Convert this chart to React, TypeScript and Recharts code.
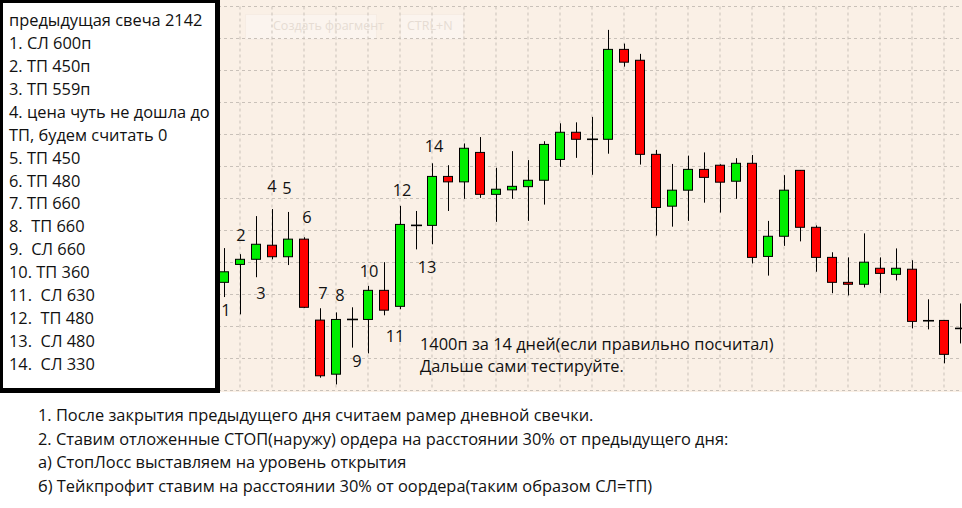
import { ComposedChart, Bar, XAxis, YAxis, CartesianGrid } from 'recharts';

// candles hidden under the note box on the left
const HIDDEN = 13;

// daily OHLC, price units (one grid step = 100)
const opens = [
  338, 394, 410, 454, 418, 473, 220, 51, 222, 222, 313, 263, 516, 516, 669,
  652, 744, 613, 627, 637, 657, 722, 807, 785, 785, 1066, 1032, 738, 576, 626,
  691, 704, 654, 710, 419, 482, 688, 510, 416, 338, 332, 382, 363, 379, 218, 219, 194,
];
const highs = [
  445, 426, 545, 567, 558, 479, 257, 244, 260, 327, 401, 577, 561, 710, 704,
  772, 792, 696, 748, 720, 779, 835, 838, 855, 1127, 1084, 1052, 752, 708, 734,
  744, 707, 726, 736, 530, 673, 689, 516, 432, 416, 491, 416, 444, 407, 285, 220, 272,
];
const lows = [
  292, 238, 354, 410, 392, 258, 40, 19, 134, 116, 235, 254, 441, 457, 561,
  599, 602, 527, 599, 530, 581, 699, 727, 674, 740, 1012, 706, 484, 512, 530,
  587, 556, 599, 397, 359, 452, 466, 371, 304, 297, 322, 304, 344, 194, 191, 85, 147,
];
const closes = [
  371, 410, 457, 418, 473, 260, 46, 222, 222, 313, 251, 519, 516, 669, 652,
  757, 613, 629, 638, 657, 769, 807, 785, 785, 1066, 1026, 738, 572, 626, 691,
  666, 651, 710, 416, 482, 626, 510, 416, 338, 332, 401, 366, 382, 216, 218, 113, 194,
];

const priceTicks = [0, 100, 200, 300, 400, 500, 600, 700, 800, 900, 1000, 1100, 1200];

const noteLines = [
  'предыдущая свеча 2142',
  '1. СЛ 600п',
  '2. ТП 450п',
  '3. ТП 559п',
  '4. цена чуть не дошла до',
  'ТП, будем считать 0',
  '5. ТП 450',
  '6. ТП 480',
  '7. ТП 660',
  '8.  ТП 660',
  '9.  СЛ 660',
  '10. ТП 360',
  '11.  СЛ 630',
  '12.  ТП 480',
  '13.  СЛ 480',
  '14.  СЛ 330',
];

const rules = [
  '1. После закрытия предыдущего дня считаем рамер дневной свечки.',
  '2. Ставим отложенные СТОП(наружу) ордера на расстоянии 30% от предыдущего дня:',
  'а) СтопЛосс выставляем на уровень открытия',
  'б) Тейкпрофит ставим на расстоянии 30% от оордера(таким образом СЛ=ТП)',
];

// trade numbers written next to the candles: [text, x, baseline]
const tradeLabels: [string, number, number][] = [
  ['1', 226, 316], ['2', 241, 241], ['3', 261, 299], ['4', 272, 192], ['5', 287, 194],
  ['6', 307, 222.5], ['7', 323, 299], ['8', 340, 301], ['9', 357, 366.5], ['10', 369, 276.5],
  ['11', 395, 341.5], ['12', 402, 195.5], ['13', 427, 272.5], ['14', 434, 152],
];

const data = Array.from({ length: HIDDEN + opens.length }, (_, k) => {
  const i = k - HIDDEN;
  if (i < 0) return { day: k };
  return { day: k, open: opens[i], high: highs[i], low: lows[i], close: closes[i], range: [lows[i], highs[i]] };
});

const GREEN = '#00ee00';
const RED = '#ff0000';

const Candle = (props: any) => {
  const { x, y, width, height, payload } = props;
  if (!payload || payload.high == null) return <g />;
  const { open, high, low, close } = payload;
  const top = Math.min(y, y + height);
  const k = Math.abs(height) / (high - low);
  const py = (v: number) => top + (high - v) * k;
  const c = Math.round(x + width / 2);
  const wickX = c + 0.5;
  const bodyTop = py(Math.max(open, close));
  const bodyBot = py(Math.min(open, close));
  const doji = Math.abs(open - close) < 1;
  return (
    <g>
      <line x1={wickX} x2={wickX} y1={py(high)} y2={py(low)} stroke="#000" strokeWidth={1} />
      {doji ? (
        <line x1={c - 5} x2={c + 6} y1={py(open)} y2={py(open)} stroke="#000" strokeWidth={1.6} />
      ) : (
        <rect
          x={c - 4.5}
          y={bodyTop}
          width={9}
          height={Math.max(bodyBot - bodyTop, 1)}
          fill={close > open ? GREEN : RED}
          stroke="#000"
          strokeWidth={1}
        />
      )}
    </g>
  );
};

const font = '"Open Sans", sans-serif';

export default function App() {
  return (
    <div style={{ position: 'absolute', left: 0, top: 0, width: 962, height: 508, overflow: 'hidden', background: '#fff', fontFamily: font }}>
      <div style={{ position: 'absolute', left: 0, top: 0, width: 962, height: 392, background: '#faf0e6' }} />

      {/* snipping tool ghost */}
      <div style={{ position: 'absolute', left: 245, top: 14, width: 130, height: 24, background: '#fbf4ee', border: '1px solid #f6ece3' }} />
      <div style={{ position: 'absolute', left: 400, top: 14, width: 62, height: 24, background: '#fbf4ee', border: '1px solid #f6ece3' }} />

      <div style={{ position: 'absolute', left: 8, top: 0 }}>
        <ComposedChart width={960} height={392} data={data} margin={{ top: 6.5, right: 0, bottom: 1.5, left: 0 }}>
          <CartesianGrid stroke="#c9c1b9" strokeDasharray="3 3" />
          <XAxis dataKey="day" hide interval={1} />
          <YAxis hide domain={[0, 1200]} ticks={priceTicks} type="number" />
          <Bar dataKey="range" barSize={10} shape={<Candle />} isAnimationActive={false} />
        </ComposedChart>
      </div>

      {/* note box */}
      <div
        style={{
          position: 'absolute', left: 0, top: 0, width: 220, height: 393, boxSizing: 'border-box',
          background: '#fff', borderStyle: 'solid', borderColor: '#000', borderWidth: '3px 5px 5px 3px',
        }}
      />

      <svg width={962} height={508} style={{ position: 'absolute', left: 0, top: 0 }}>
        <g fontFamily={font} fontSize={16.4} fill="#111">
          {noteLines.map((t, i) => (
            <text key={i} x={9} y={26 + i * 22.93} style={{ whiteSpace: 'pre' }}>{t}</text>
          ))}
          {tradeLabels.map(([t, x, y]) => (
            <text key={t} x={x} y={y} textAnchor="middle">{t}</text>
          ))}
          <text x={420} y={349.5}>1400п за 14 дней(если правильно посчитал)</text>
          <text x={420} y={372}>Дальше сами тестируйте.</text>
          {rules.map((t, i) => (
            <text key={t} x={38} y={421 + i * 23.6}>{t}</text>
          ))}
        </g>
        <g fontFamily={font} fontSize={12.5} fill="#e6dcd3">
          <text x={273} y={30}>Создать фрагмент</text>
          <text x={407} y={30}>CTRL+N</text>
        </g>
      </svg>
    </div>
  );
}
